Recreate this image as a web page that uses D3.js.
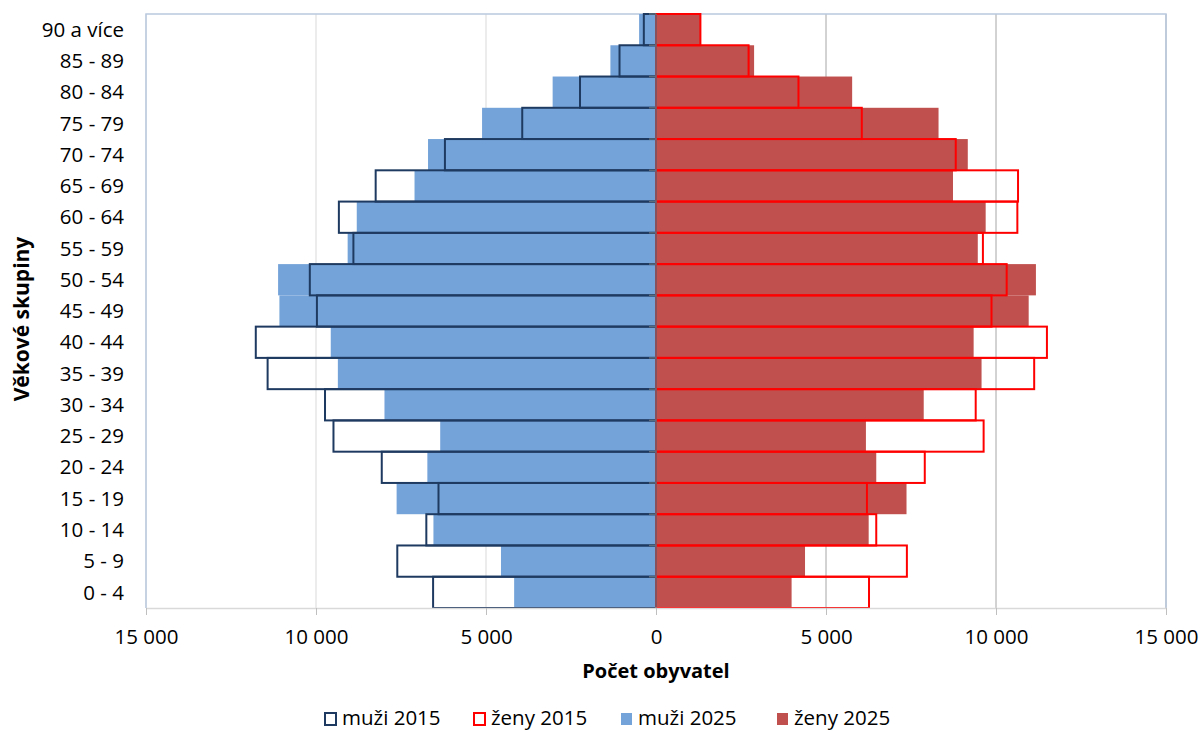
<!DOCTYPE html>
<html>
<head>
<meta charset="utf-8">
<script src="https://cdn.jsdelivr.net/npm/d3@7"></script>
<style>
  body { margin: 0; background: #fff; }
  text { font-family: "Open Sans", sans-serif; fill: #000; }
  .axis-title { font-weight: bold; }
</style>
</head>
<body>
<script>
// age groups, bottom to top
var ages = ["0 - 4", "5 - 9", "10 - 14", "15 - 19", "20 - 24", "25 - 29", "30 - 34",
    "35 - 39", "40 - 44", "45 - 49", "50 - 54", "55 - 59", "60 - 64", "65 - 69",
    "70 - 74", "75 - 79", "80 - 84", "85 - 89", "90 a více"];

var muzi2015 = [6556, 7609, 6755, 6397, 8066, 9486, 9735, 11423, 11771, 9973,
    10182, 8900, 9327, 8245, 6208, 3934, 2235, 1073, 358];
var muzi2025 = [4172, 4559, 6546, 7629, 6725, 6347, 7986, 9357, 9566, 11076,
    11115, 9069, 8801, 7102, 6705, 5116, 3040, 1341, 497];
var zeny2015 = [6265, 7379, 6478, 6204, 7905, 9636, 9403, 11123, 11498, 9868,
    10314, 9615, 10628, 10648, 8816, 6053, 4190, 2723, 1306];
var zeny2025 = [3988, 4383, 6255, 7368, 6478, 6174, 7874, 9575, 9342, 10961,
    11174, 9464, 9696, 8735, 9170, 8310, 5769, 2885, 1300];

var xTicks = [-15000, -10000, -5000, 0, 5000, 10000, 15000];
var legendItems = ["muži 2015", "ženy 2015", "muži 2025", "ženy 2025"];

var colors = {
    men2015: "#1f3a60",
    women2015: "#ff0000",
    men2025: "#74a3d9",
    women2025: "#c0504d"
};

var width = 1201, height = 731;
var plot = {left: 146, right: 1166, top: 14, bottom: 608};
var fontSize = "20.5px";

var svg = d3.select("body").append("svg")
    .attr("width", width)
    .attr("height", height);

var x = d3.scaleLinear()
    .domain([-15000, 15000])
    .range([plot.left, plot.right]);

var y = d3.scaleBand()
    .domain(ages.slice().reverse())
    .range([plot.top, plot.bottom])
    .padding(0);

var fmt = d3.formatLocale({decimal: ",", thousands: " ", grouping: [3], currency: ["", ""]}).format(",");

// gridlines (left half lighter, right half darker like the original)
svg.append("g").selectAll("line")
    .data(xTicks)
    .enter()
    .append("line")
    .attr("x1", d => x(d)).attr("x2", d => x(d))
    .attr("y1", plot.top).attr("y2", plot.bottom)
    .attr("stroke", d => d < 0 ? "#d9d9d9" : "#a6a6a6")
    .attr("stroke-width", 1);

// plot border
svg.append("path")
    .attr("d", "M" + plot.left + "," + plot.bottom + "V" + plot.top + "H" + plot.right + "V" + plot.bottom)
    .attr("fill", "none")
    .attr("stroke", "#b9c9de")
    .attr("stroke-width", 1.5);

var rows = ages.map(function(a, i) {
    return {age: a, m15: muzi2015[i], m25: muzi2025[i], z15: zeny2015[i], z25: zeny2025[i]};
});

// 2025 filled bars
svg.append("g").selectAll("rect")
    .data(rows)
    .enter()
    .append("rect")
    .attr("x", d => x(-d.m25))
    .attr("y", d => y(d.age))
    .attr("width", d => x(0) - x(-d.m25))
    .attr("height", y.bandwidth())
    .attr("fill", colors.men2025);

svg.append("g").selectAll("rect")
    .data(rows)
    .enter()
    .append("rect")
    .attr("x", x(0))
    .attr("y", d => y(d.age))
    .attr("width", d => x(d.z25) - x(0))
    .attr("height", y.bandwidth())
    .attr("fill", colors.women2025);

// 2015 outline bars
svg.append("g").selectAll("rect")
    .data(rows)
    .enter()
    .append("rect")
    .attr("x", d => x(-d.m15))
    .attr("y", d => y(d.age))
    .attr("width", d => x(0) - x(-d.m15))
    .attr("height", y.bandwidth())
    .attr("fill", "none")
    .attr("stroke", colors.men2015)
    .attr("stroke-width", 2);

svg.append("g").selectAll("rect")
    .data(rows)
    .enter()
    .append("rect")
    .attr("x", x(0))
    .attr("y", d => y(d.age))
    .attr("width", d => x(d.z15) - x(0))
    .attr("height", y.bandwidth())
    .attr("fill", "none")
    .attr("stroke", colors.women2015)
    .attr("stroke-width", 2);

// category axis at zero
var yAxis = svg.append("g")
    .attr("transform", "translate(" + x(0) + ",0)");
yAxis.append("line")
    .attr("x1", 0).attr("x2", 0)
    .attr("y1", plot.top).attr("y2", plot.bottom)
    .attr("stroke", "#5f6b7a")
    .attr("stroke-width", 1.5);
yAxis.selectAll(".ytick")
    .data(ages)
    .enter()
    .append("line")
    .attr("class", "ytick")
    .attr("x1", -7).attr("x2", 0)
    .attr("y1", d => y(d)).attr("y2", d => y(d))
    .attr("stroke", "#5f6b7a")
    .attr("stroke-width", 1.5);

// category labels on the left
svg.append("g").selectAll("text")
    .data(ages)
    .enter()
    .append("text")
    .attr("x", 124)
    .attr("y", d => y(d) + y.bandwidth() / 2)
    .attr("dy", "0.35em")
    .attr("text-anchor", "end")
    .style("font-size", fontSize)
    .text(d => d);

// x axis
var xAxis = svg.append("g")
    .attr("transform", "translate(0," + plot.bottom + ")")
    .call(d3.axisBottom(x)
        .tickValues(xTicks)
        .tickSize(7)
        .tickSizeOuter(0)
        .tickFormat(d => fmt(Math.abs(d))));
xAxis.select(".domain").attr("stroke", "#d9d9d9").attr("stroke-width", 1.5);
xAxis.selectAll(".tick line").attr("stroke", "#bfbfbf");
xAxis.selectAll(".tick text")
    .attr("y", 29)
    .attr("dy", "0.35em")
    .style("font-size", fontSize)
    .style("font-family", "'Open Sans', sans-serif")
    .attr("fill", "#000");

svg.append("text")
    .attr("class", "axis-title")
    .attr("x", x(0))
    .attr("y", 671)
    .attr("dy", "0.35em")
    .attr("text-anchor", "middle")
    .style("font-size", "20px")
    .text("Počet obyvatel");

svg.append("text")
    .attr("class", "axis-title")
    .attr("transform", "translate(22,319) rotate(-90)")
    .attr("dy", "0.35em")
    .attr("text-anchor", "middle")
    .style("font-size", "21px")
    .text("Věkové skupiny");

// legend
var legendX = [324, 473, 620, 776];
var legendStyle = [
    {fill: "#fff", stroke: colors.men2015},
    {fill: "#fff", stroke: colors.women2015},
    {fill: colors.men2025, stroke: "none"},
    {fill: colors.women2025, stroke: "none"}
];
var legend = svg.append("g").attr("class", "legend");
legend.selectAll("rect")
    .data(legendItems)
    .enter()
    .append("rect")
    .attr("x", (d, i) => legendX[i] + 1)
    .attr("y", 713)
    .attr("width", 11)
    .attr("height", 12)
    .attr("fill", (d, i) => legendStyle[i].fill)
    .attr("stroke", (d, i) => legendStyle[i].stroke)
    .attr("stroke-width", 2);
legend.selectAll("text")
    .data(legendItems)
    .enter()
    .append("text")
    .attr("x", (d, i) => legendX[i] + 18)
    .attr("y", 718)
    .attr("dy", "0.35em")
    .style("font-size", fontSize)
    .text(d => d);
</script>
</body>
</html>
